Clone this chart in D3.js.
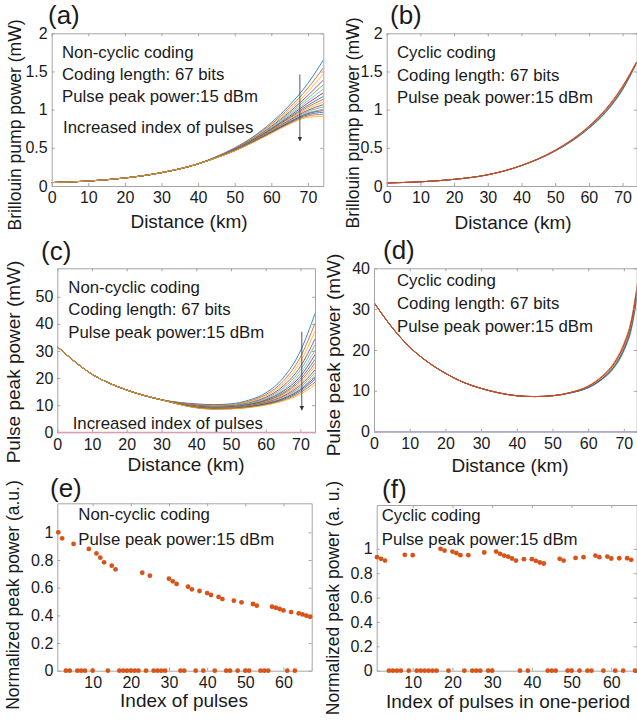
<!DOCTYPE html>
<html lang="en">
<head>
<meta charset="UTF-8">
<title>Coding pulses</title>
<script src="https://cdn.jsdelivr.net/npm/d3@7"></script>
<style>
    body { margin: 0; background: #fff; }
    svg { display: block; }
    text { font-family: "Liberation Sans", Arial, sans-serif; fill: #1a1a1a; }
</style>
</head>
<body>
<script>
// ---------- data ----------

// (a) Brillouin pump power, non-cyclic coding: all curves share the start, then fan out
const distHeadA = [0, 10, 20, 30, 40];
const pumpHeadA = [0.045, 0.065, 0.105, 0.175, 0.29];
const distTailA = [45, 50, 55, 60, 65, 70, 74.2];
const pumpTailsA = [
    [0.385, 0.500, 0.645, 0.830, 1.060, 1.345, 1.650],
    [0.383, 0.494, 0.635, 0.811, 1.026, 1.284, 1.548],
    [0.381, 0.490, 0.626, 0.795, 0.998, 1.234, 1.466],
    [0.380, 0.486, 0.618, 0.780, 0.971, 1.187, 1.387],
    [0.378, 0.482, 0.612, 0.769, 0.951, 1.150, 1.326],
    [0.377, 0.479, 0.607, 0.758, 0.932, 1.117, 1.270],
    [0.376, 0.477, 0.602, 0.749, 0.915, 1.087, 1.221],
    [0.375, 0.474, 0.597, 0.740, 0.899, 1.058, 1.173],
    [0.375, 0.472, 0.593, 0.733, 0.886, 1.036, 1.136],
    [0.374, 0.470, 0.589, 0.726, 0.874, 1.014, 1.100],
    [0.373, 0.468, 0.586, 0.719, 0.863, 0.993, 1.065],
    [0.373, 0.467, 0.583, 0.714, 0.853, 0.976, 1.036],
    [0.372, 0.465, 0.580, 0.708, 0.843, 0.958, 1.007],
    [0.372, 0.464, 0.578, 0.705, 0.837, 0.948, 0.989],
    [0.371, 0.463, 0.576, 0.700, 0.829, 0.933, 0.966],
    [0.371, 0.462, 0.573, 0.695, 0.820, 0.917, 0.939],
    [0.370, 0.460, 0.570, 0.690, 0.810, 0.900, 0.910]
];

// (b) Brillouin pump power, cyclic coding
const distB = [0, 10, 20, 30, 40, 50, 55, 60, 65, 70, 74.2];
const pumpB = [
    [0.04, 0.055, 0.087, 0.147, 0.270, 0.470, 0.610, 0.785, 1.010, 1.310, 1.630],
    [0.04, 0.055, 0.087, 0.147, 0.269, 0.467, 0.604, 0.778, 0.998, 1.298, 1.626],
    [0.04, 0.055, 0.087, 0.147, 0.268, 0.464, 0.600, 0.771, 0.988, 1.287, 1.622],
    [0.04, 0.055, 0.087, 0.147, 0.268, 0.462, 0.596, 0.765, 0.980, 1.278, 1.618],
    [0.04, 0.055, 0.087, 0.147, 0.267, 0.460, 0.593, 0.760, 0.972, 1.270, 1.615],
    [0.04, 0.055, 0.087, 0.147, 0.267, 0.458, 0.590, 0.756, 0.966, 1.262, 1.612],
    [0.04, 0.055, 0.087, 0.147, 0.266, 0.456, 0.588, 0.752, 0.960, 1.255, 1.610]
];

// (c) pulse peak power, non-cyclic coding
const distHeadC = [0, 10, 20, 30];
const peakHeadC = [31.6, 21.4, 15.6, 12.0];
const distTailC = [40, 45, 50, 55, 60, 65, 70, 74.2];
const peakTailsC = [
    [10.5, 10.2, 10.5, 11.8, 14.5, 20.0, 30.0, 43.8],
    [10.3, 10.0, 10.2, 11.4, 13.9, 18.8, 27.8, 40.2],
    [10.1, 9.8, 10.0, 11.1, 13.4, 17.9, 26.0, 37.3],
    [10.0, 9.6, 9.8, 10.8, 12.9, 17.0, 24.3, 34.4],
    [9.8, 9.5, 9.7, 10.6, 12.5, 16.3, 23.0, 32.3],
    [9.7, 9.3, 9.5, 10.4, 12.2, 15.6, 21.8, 30.3],
    [9.6, 9.2, 9.4, 10.2, 11.9, 15.1, 20.7, 28.6],
    [9.5, 9.1, 9.3, 10.1, 11.6, 14.5, 19.7, 26.9],
    [9.5, 9.0, 9.2, 9.9, 11.4, 14.1, 18.9, 25.5],
    [9.4, 8.9, 9.1, 9.8, 11.2, 13.7, 18.1, 24.3],
    [9.3, 8.9, 9.0, 9.7, 11.0, 13.3, 17.4, 23.0],
    [9.3, 8.8, 8.9, 9.6, 10.8, 13.0, 16.7, 22.0],
    [9.2, 8.7, 8.9, 9.5, 10.6, 12.6, 16.1, 21.0],
    [9.2, 8.7, 8.8, 9.4, 10.5, 12.4, 15.7, 20.3],
    [9.1, 8.6, 8.7, 9.3, 10.3, 12.1, 15.2, 19.5],
    [9.1, 8.6, 8.7, 9.2, 10.2, 11.8, 14.6, 18.5],
    [9.0, 8.5, 8.6, 9.1, 10.0, 11.5, 14.0, 17.5]
];

// (d) pulse peak power, cyclic coding
const distD = [0, 5, 10, 15, 20, 25, 30, 35, 40, 45, 50, 55, 60, 64, 67, 70, 72, 74.2];
const peakD = [
    [31.6, 25.6, 20.7, 17.1, 14.3, 12.1, 10.6, 9.5, 8.8, 8.6, 8.8, 9.6, 11.2, 13.7, 16.6, 21.6, 27.0, 38.8],
    [31.6, 25.6, 20.7, 17.1, 14.3, 12.1, 10.6, 9.5, 8.8, 8.6, 8.8, 9.6, 11.1, 13.5, 16.3, 21.2, 26.5, 38.2],
    [31.6, 25.6, 20.7, 17.1, 14.3, 12.1, 10.6, 9.5, 8.8, 8.6, 8.8, 9.6, 11.0, 13.3, 16.0, 20.8, 26.0, 37.6],
    [31.6, 25.6, 20.7, 17.1, 14.3, 12.1, 10.6, 9.5, 8.8, 8.6, 8.8, 9.5, 10.9, 13.1, 15.8, 20.4, 25.6, 37.0],
    [31.6, 25.6, 20.7, 17.1, 14.3, 12.1, 10.6, 9.5, 8.8, 8.6, 8.8, 9.5, 10.8, 13.0, 15.6, 20.1, 25.2, 36.5],
    [31.6, 25.6, 20.7, 17.1, 14.3, 12.1, 10.6, 9.5, 8.8, 8.6, 8.8, 9.5, 10.8, 12.9, 15.4, 19.9, 24.9, 36.0],
    [31.6, 25.6, 20.7, 17.1, 14.3, 12.1, 10.6, 9.5, 8.8, 8.6, 8.8, 9.5, 10.7, 12.8, 15.3, 19.7, 24.6, 35.6]
];

// zero-bit pulses stay at 0 mW along the fiber
const zeroDist = [0, 74.2];
const zeroPeak = [0, 0];

// (e) normalized peak power per pulse index 1..67, non-cyclic
const normE = [1.0, 0.957, 0, 0, 0.916, 0, 0, 0, 0.88, 0,
    0.848, 0.817, 0.783, 0, 0.759, 0.733, 0, 0, 0, 0,
    0, 0, 0.708, 0, 0.687, 0, 0, 0, 0, 0.665,
    0.646, 0.627, 0, 0, 0.607, 0.588, 0, 0.576, 0, 0.561,
    0.547, 0, 0.533, 0.518, 0, 0, 0.506, 0, 0.494, 0,
    0, 0.482, 0.47, 0, 0, 0, 0.463, 0.455, 0.446, 0.436,
    0, 0.424, 0, 0.414, 0.407, 0.398, 0.39];

// (f) normalized peak power per pulse index 1..67 in one period, cyclic
const normF = [0.932, 0.918, 0.904, 0, 0, 0, 0, 0.951, 0, 0.948,
    0, 0, 0, 0, 0, 0, 1.0, 0.986, 0, 0.978,
    0.965, 0.948, 0, 0.948, 0, 0, 0, 0.97, 0, 0,
    0.978, 0.959, 0.945, 0.937, 0.921, 0.904, 0, 0.915, 0, 0.915,
    0.902, 0.888, 0.88, 0, 0, 0, 0.918, 0.904, 0, 0,
    0.926, 0, 0.932, 0, 0, 0.945, 0.932, 0, 0.937, 0.921,
    0, 0.923, 0, 0.923, 0.91, 0, 0];

// arrows: [distance, from, to]
const arrowA = [67.8, 1.46, 0.59];
const arrowC = [70.4, 37.1, 8.2];

const kmTicks = [0, 10, 20, 30, 40, 50, 60, 70];
const pumpTicks = [0, 0.5, 1, 1.5, 2];
const peakTicksC = [0, 10, 20, 30, 40, 50];
const peakTicksD = [0, 10, 20, 30, 40];
const indexTicks = [10, 20, 30, 40, 50, 60];
const normTicks = [0, 0.2, 0.4, 0.6, 0.8, 1];

const nonCyclicNotes = ["Non-cyclic coding", "Coding length: 67 bits", "Pulse peak power:15 dBm"];
const cyclicNotes = ["Cyclic coding", "Coding length: 67 bits", "Pulse peak power:15 dBm"];

// ---------- drawing ----------
const W = 637, H = 721;
const matlab = ["#0072BD", "#D95319", "#EDB120", "#7E2F8E", "#77AC30", "#4DBEEE", "#A2142F"];
const frontOrange = ["#D95319", "#A2142F", "#EDB120", "#7E2F8E", "#0072BD", "#77AC30", "#4DBEEE"];
const fmt = d3.format("~g");

const svg = d3.select("body").append("svg")
    .attr("width", W).attr("height", H)
    .attr("viewBox", `0 0 ${W} ${H}`);
svg.append("rect").attr("width", W).attr("height", H).attr("fill", "#fff");

const defs = svg.append("defs");
defs.append("marker")
    .attr("id", "arrowhead")
    .attr("viewBox", "0 0 10 10")
    .attr("refX", 9).attr("refY", 5)
    .attr("markerWidth", 5).attr("markerHeight", 6)
    .attr("orient", "auto")
    .append("path").attr("d", "M0,0L10,5L0,10Z").attr("fill", "#333");

function makePanel(p) {
    const x = d3.scaleLinear().domain(p.xDomain).range([p.left, p.right]);
    const y = d3.scaleLinear().domain(p.yDomain).range([p.bottom, p.top]);
    const g = svg.append("g").attr("class", "panel-" + p.id);

    defs.append("clipPath").attr("id", "clip-" + p.id)
        .append("rect")
        .attr("x", p.left).attr("y", p.top)
        .attr("width", p.right - p.left).attr("height", p.bottom - p.top);

    // lines go underneath the frame
    const plot = g.append("g").attr("clip-path", `url(#clip-${p.id})`);

    const axes = [
        [d3.axisBottom(x).tickValues(p.xTicks).tickFormat(fmt).tickPadding(6), `translate(0,${p.bottom})`],
        [d3.axisTop(x).tickValues(p.xTicks).tickFormat(""), `translate(0,${p.top})`],
        [d3.axisLeft(y).tickValues(p.yTicks).tickFormat(fmt).tickPadding(4), `translate(${p.left},0)`],
        [d3.axisRight(y).tickValues(p.yTicks).tickFormat(""), `translate(${p.right},0)`]
    ];
    axes.forEach(([ax, tr]) => {
        const a = g.append("g").attr("transform", tr)
            .call(ax.tickSizeInner(-3).tickSizeOuter(0));
        a.attr("color", "#a5a5a5").attr("font-family", null).attr("font-size", null);
        a.selectAll("text").style("font-size", "16px").style("fill", "#1a1a1a");
    });

    g.append("text")
        .attr("x", p.tag[1]).attr("y", p.tag[2])
        .style("font-size", "26px")
        .text(p.tag[0]);

    g.append("text")
        .attr("x", p.xLabel[1]).attr("y", p.xLabel[2])
        .attr("text-anchor", "middle")
        .style("font-size", "19px")
        .text(p.xLabel[0]);

    g.append("text")
        .attr("transform", `translate(${p.yLabel[1]},${p.yLabel[2]}) rotate(-90)`)
        .attr("text-anchor", "middle")
        .attr("dy", "0.35em")
        .style("font-size", p.yLabel[3] + "px")
        .text(p.yLabel[0]);

    p.notes.forEach((t, i) => {
        g.append("text")
            .attr("x", p.noteX).attr("y", p.noteY[i])
            .style("font-size", "16.8px")
            .text(t);
    });

    return { x, y, g, plot };
}

function drawCurves(panel, dist, series, colors, width) {
    const line = d3.line()
        .x((d, i) => panel.x(dist[i]))
        .y(d => panel.y(d))
        .curve(d3.curveMonotoneX);
    panel.plot.selectAll("path.curve")
        .data(series)
        .join("path")
        .attr("class", "curve")
        .attr("d", line)
        .attr("fill", "none")
        .attr("stroke", (d, i) => colors[i % colors.length])
        .attr("stroke-width", width)
        .attr("stroke-opacity", 0.9);
}

function drawArrow(panel, a) {
    panel.g.append("line")
        .attr("x1", panel.x(a[0])).attr("x2", panel.x(a[0]))
        .attr("y1", panel.y(a[1])).attr("y2", panel.y(a[2]))
        .attr("stroke", "#444").attr("stroke-width", 0.9)
        .attr("marker-end", "url(#arrowhead)");
}

function drawZero(panel, color) {
    const line = d3.line().x((d, i) => panel.x(zeroDist[i])).y(d => panel.y(d));
    panel.g.append("path")
        .attr("d", line(zeroPeak))
        .attr("fill", "none")
        .attr("stroke", color)
        .attr("stroke-width", 1.2);
}

function drawDots(panel, values, xMax) {
    const pts = values.map((v, i) => [i + 1, v]).filter(d => d[0] <= xMax);
    panel.g.selectAll("circle.dot")
        .data(pts)
        .join("circle")
        .attr("class", "dot")
        .attr("cx", d => panel.x(d[0]))
        .attr("cy", d => panel.y(d[1]))
        .attr("r", 2.4)
        .attr("fill", "#D95319");
}

// (a)
const pA = makePanel({
    id: "a", left: 51.7, right: 323.3, top: 33.3, bottom: 186,
    xDomain: [0, 74.2], yDomain: [0, 2], xTicks: kmTicks, yTicks: pumpTicks,
    tag: ["(a)", 48, 24],
    xLabel: ["Distance (km)", 189, 228],
    yLabel: ["Brillouin pump power (mW)", 15, 125, 17.5],
    notes: nonCyclicNotes, noteX: 62, noteY: [58, 80, 102]
});
drawCurves(pA, distHeadA.concat(distTailA), pumpTailsA.map(t => pumpHeadA.concat(t)), matlab, 0.9);
pA.g.append("text").attr("x", 63).attr("y", 133).style("font-size", "16.8px")
    .text("Increased index of pulses");
drawArrow(pA, arrowA);

// (b)
const pB = makePanel({
    id: "b", left: 386.7, right: 636.7, top: 33.3, bottom: 186,
    xDomain: [0, 74.2], yDomain: [0, 2], xTicks: kmTicks, yTicks: pumpTicks,
    tag: ["(b)", 390, 24],
    xLabel: ["Distance (km)", 513, 229],
    yLabel: ["Brillouin pump power (mW)", 353, 123, 17.5],
    notes: cyclicNotes, noteX: 397, noteY: [58, 81, 103]
});
drawCurves(pB, distB, pumpB.slice().reverse(), frontOrange.slice().reverse(), 0.9);

// (c)
const pC = makePanel({
    id: "c", left: 57.3, right: 315, top: 268.3, bottom: 432.3,
    xDomain: [0, 74.2], yDomain: [0, 60.5], xTicks: kmTicks, yTicks: peakTicksC,
    tag: ["(c)", 41, 260],
    xLabel: ["Distance (km)", 186, 471],
    yLabel: ["Pulse peak power (mW)", 13, 362, 19],
    notes: nonCyclicNotes, noteX: 68.3, noteY: [293, 315, 338]
});
drawCurves(pC, distHeadC.concat(distTailC), peakTailsC.map(t => peakHeadC.concat(t)), matlab, 0.9);
pC.g.append("text").attr("x", 72.7).attr("y", 429).style("font-size", "16.8px")
    .text("Increased index of pulses");
drawArrow(pC, arrowC);
drawZero(pC, "#e39ab0");

// (d)
const pD = makePanel({
    id: "d", left: 374, right: 636.7, top: 268.3, bottom: 431.7,
    xDomain: [0, 73.6], yDomain: [0, 40], xTicks: kmTicks, yTicks: peakTicksD,
    tag: ["(d)", 383, 259],
    xLabel: ["Distance (km)", 510, 472],
    yLabel: ["Pulse peak power (mW)", 333, 355, 19],
    notes: cyclicNotes, noteX: 397, noteY: [285.5, 309, 332]
});
drawCurves(pD, distD, peakD.slice().reverse(), frontOrange.slice().reverse(), 1);
drawZero(pD, "#b9a3d6");

// (e)
const pE = makePanel({
    id: "e", left: 57.3, right: 311.7, top: 503.3, bottom: 670.7,
    xDomain: [0.74, 67.4], yDomain: [0, 1.21], xTicks: indexTicks, yTicks: normTicks,
    tag: ["(e)", 50, 497],
    xLabel: ["Index of pulses", 184, 707],
    yLabel: ["Normalized peak power (a.u.)", 13, 595, 17.5],
    notes: ["Non-cyclic coding", "Pulse peak power:15 dBm"], noteX: 78.3, noteY: [519.5, 544.5]
});
drawDots(pE, normE, 67.4);

// (f)
const pF = makePanel({
    id: "f", left: 376.7, right: 636.7, top: 505, bottom: 670.7,
    xDomain: [0.92, 66.4], yDomain: [0, 1.36], xTicks: indexTicks, yTicks: normTicks,
    tag: ["(f)", 382, 498],
    xLabel: ["Index of pulses in one-period", 508, 708],
    yLabel: ["Normalized peak power (a. u.)", 333, 598, 17.5],
    notes: ["Cyclic coding", "Pulse peak power:15 dBm"], noteX: 381.7, noteY: [521, 544.5]
});
drawDots(pF, normF, 66.4);
</script>
</body>
</html>
